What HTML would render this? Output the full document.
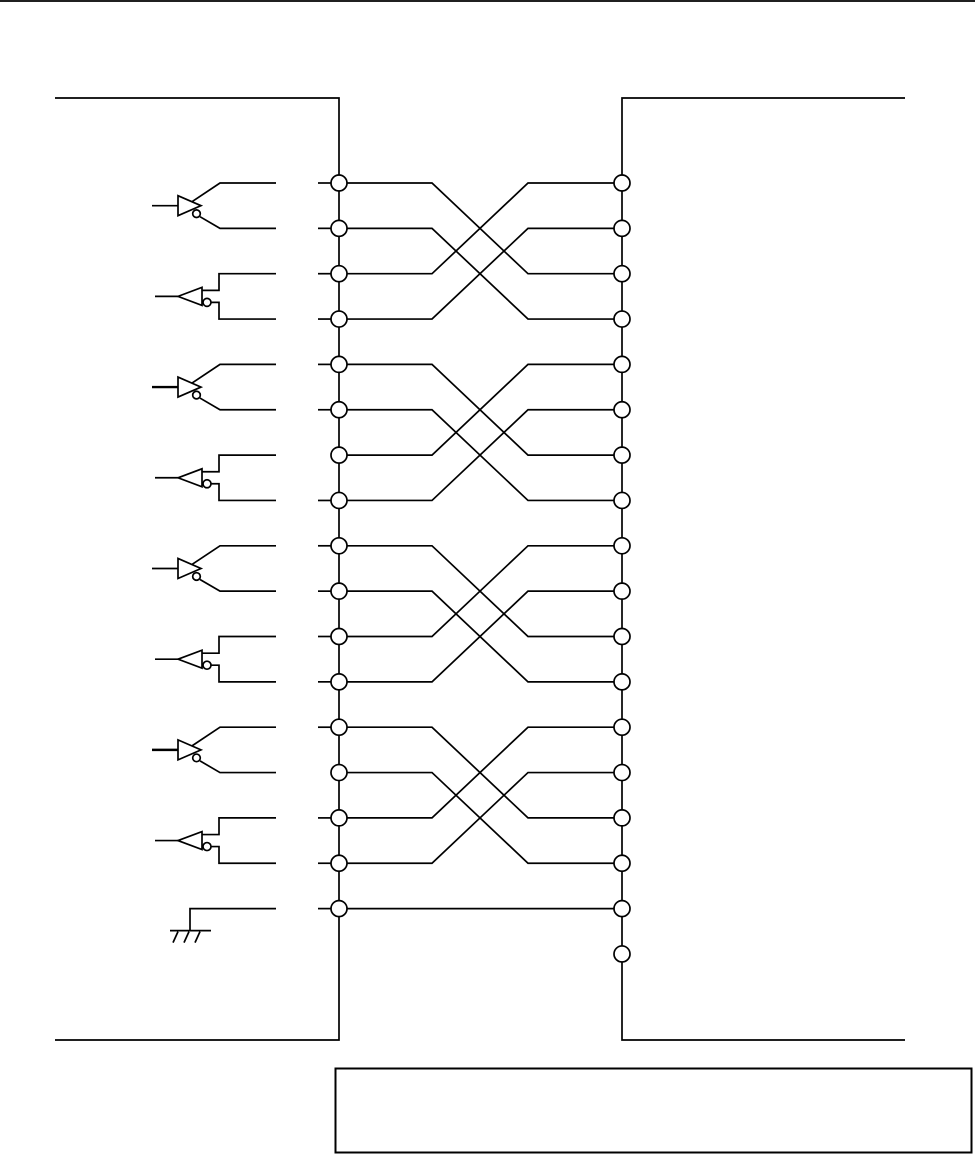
<!DOCTYPE html>
<html><head><meta charset="utf-8"><style>html,body{margin:0;padding:0;background:#fff;width:975px;height:1161px;overflow:hidden}</style></head>
<body>
<svg id="s" width="975" height="1161" xmlns="http://www.w3.org/2000/svg" style="display:block">
<g stroke="#000" stroke-width="1.7" fill="none">
<line x1="0" y1="1" x2="975" y2="1"/>
<polyline points="55,98 339,98 339,1040 55,1040"/>
<polyline points="905,98 622,98 622,1040 905,1040"/>
<rect x="335.5" y="1068.5" width="636" height="84" stroke-width="2"/>
</g>
<g id="g" stroke="#000" stroke-width="1.7" fill="none"></g>
</svg>
<script>
var g=document.getElementById('g'),h='';
var Y=[];for(var i=0;i<18;i++)Y.push(183+i*45.35);
for(var k=0;k<4;k++){var b=k*4;var map=[2,3,0,1];
for(var j=0;j<4;j++){var a=Y[b+j],c=Y[b+map[j]];
h+='<polyline points="347,'+a+' 432,'+a+' 528,'+c+' 614,'+c+'"/>';}}
h+='<line x1="347" y1="'+Y[16]+'" x2="614" y2="'+Y[16]+'"/>';
for(var i=0;i<17;i++){if(i==6||i==13)continue;h+='<line x1="318" y1="'+Y[i]+'" x2="331" y2="'+Y[i]+'"/>';}
for(var i=0;i<17;i++)h+='<circle cx="339" cy="'+Y[i]+'" r="8" fill="#fff"/>';
for(var i=0;i<18;i++)h+='<circle cx="622" cy="'+Y[i]+'" r="8" fill="#fff"/>';
for(var k=0;k<4;k++){
var a=Y[k*4],c=Y[k*4+1],m=(a+c)/2;
h+='<line x1="152" y1="'+m+'" x2="178" y2="'+m+'"'+(k%2?' stroke-width="2.4"':'')+'/>';
h+='<polygon points="178,'+(m-10)+' 178,'+(m+10)+' 201,'+m+'"/>';
h+='<circle cx="196.5" cy="'+(m+8)+'" r="3.8"/>';
h+='<polyline points="192,'+(m-4)+' 220,'+a+' 276,'+a+'"/>';
h+='<polyline points="200,'+(m+11)+' 220,'+c+' 276,'+c+'"/>';
var a2=Y[k*4+2],c2=Y[k*4+3],m2=(a2+c2)/2;
h+='<line x1="155" y1="'+m2+'" x2="178" y2="'+m2+'"/>';
h+='<polygon points="178,'+m2+' 202,'+(m2-9)+' 202,'+(m2+9)+'"/>';
h+='<circle cx="207" cy="'+(m2+6)+'" r="4"/>';
h+='<polyline points="202,'+(m2-6)+' 219,'+(m2-6)+' 219,'+a2+' 276,'+a2+'"/>';
h+='<polyline points="211,'+(m2+6)+' 219,'+(m2+6)+' 219,'+c2+' 276,'+c2+'"/>';
}
var gy=Y[16];
h+='<polyline points="276,'+gy+' 190,'+gy+' 190,'+(gy+22)+'"/>';
h+='<line x1="170" y1="'+(gy+22)+'" x2="211" y2="'+(gy+22)+'"/>';
for(var x of [178,189,200])h+='<line x1="'+x+'" y1="'+(gy+23)+'" x2="'+(x-5)+'" y2="'+(gy+34)+'"/>';
g.innerHTML=h;
</script>
</body></html>
